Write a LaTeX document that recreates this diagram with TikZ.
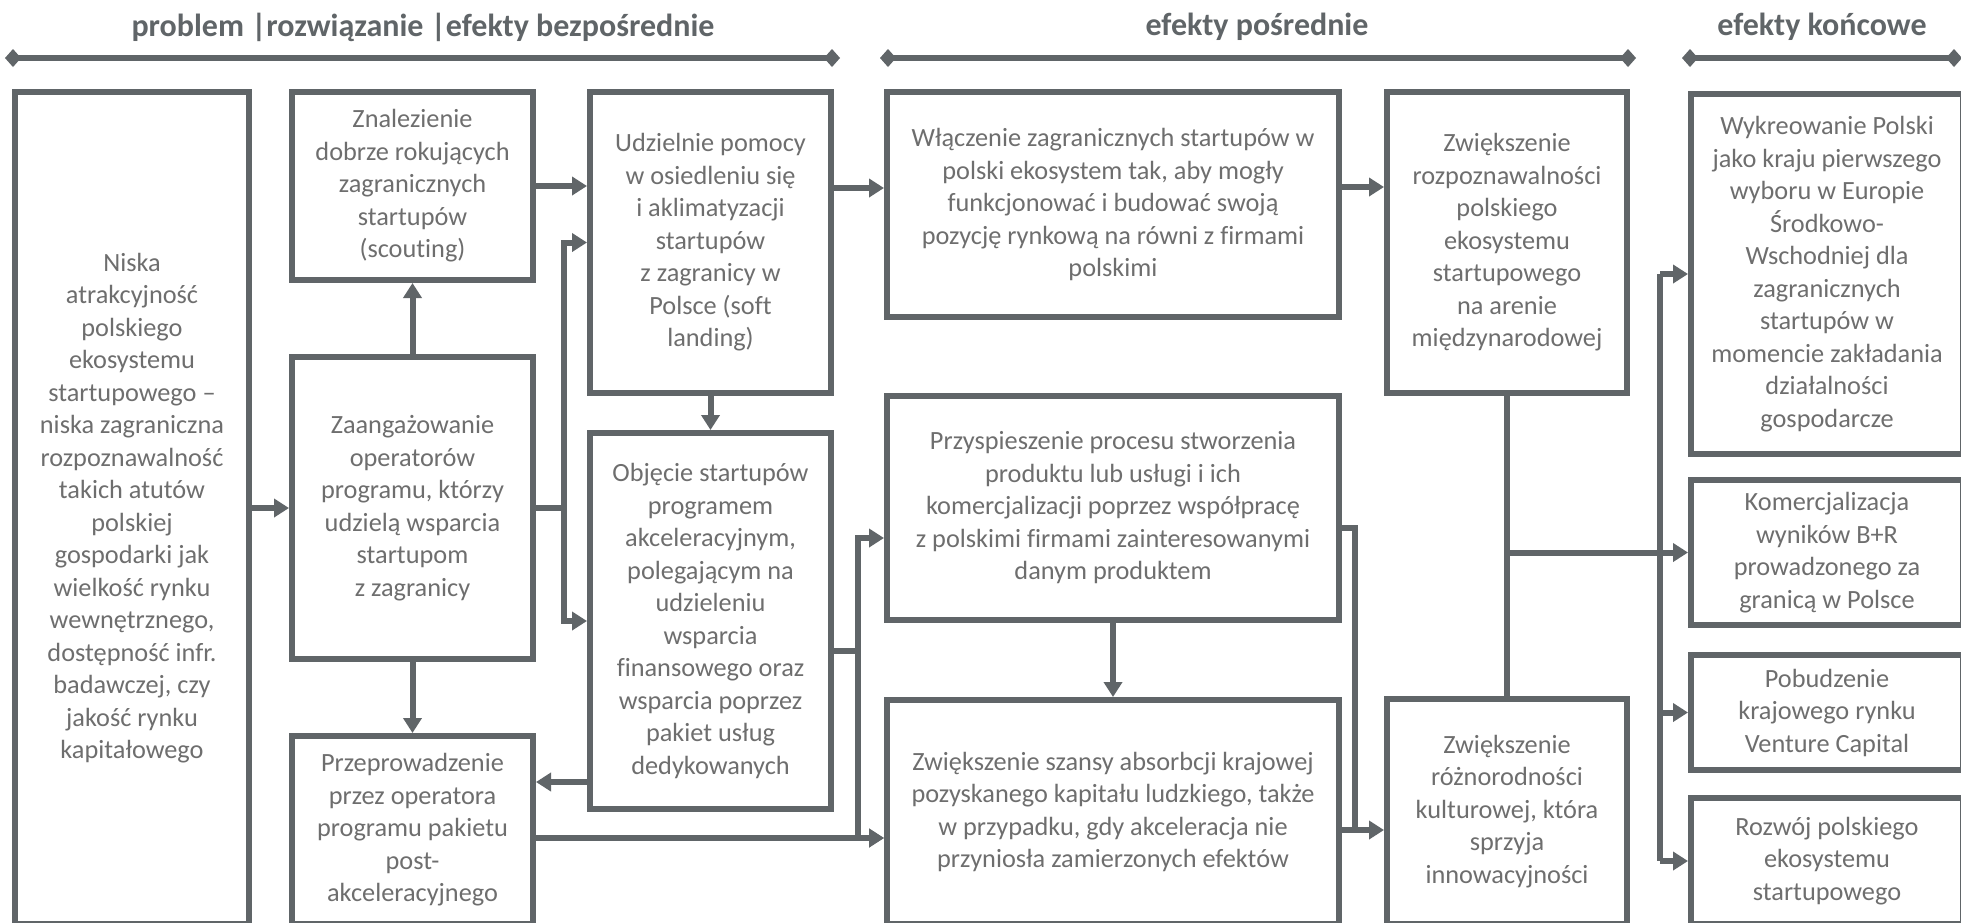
\documentclass[tikz,border=0pt]{standalone}
\usepackage{fontspec}
\setmainfont{Carlito}[Ligatures=NoCommon]
\usetikzlibrary{arrows.meta}
\definecolor{lc}{RGB}{96,101,104}
\definecolor{tc}{RGB}{110,110,110}
\begin{document}
\begin{tikzpicture}[x=1pt,y=-1pt,
  box/.style={draw=lc, line width=6pt, fill=white, text=tc, align=center,
    inner sep=0pt, font=\fontsize{26.3}{32.5}\selectfont},
  hdr/.style={text=lc, font=\fontsize{32}{38}\selectfont\bfseries, inner sep=0pt},
  span/.style={draw=lc, line width=6pt, {Diamond[length=16pt,width=18pt]}-{Diamond[length=16pt,width=18pt]}},
  link/.style={draw=lc, line width=6pt},
  arr/.style={link, -{Triangle[length=15pt,width=18pt]}}]
\useasboundingbox (0,0) rectangle (1961,922);
\clip (0,0) rectangle (1961,922);
\fill[white] (0,0) rectangle (1961,922);

% column headings
\node[hdr] (t1) at (423,27) {problem |rozwiązanie |efekty bezpośrednie};
\node[hdr] (t2) at (1257,27) {efekty pośrednie};
\node[hdr] (t3) at (1822,27) {efekty końcowe};
\coordinate (s1a) at (5,58);   \coordinate (s1b) at (840,58);
\coordinate (s2a) at (880,58); \coordinate (s2b) at (1636,58);
\coordinate (s3a) at (1682,58);\coordinate (s3b) at (1962,58);
\draw[span] (s1a) -- (s1b);
\draw[span] (s2a) -- (s2b);
\draw[span] (s3a) -- (s3b);

% problem
\node[box, minimum width=234pt, minimum height=832pt] (L) at (132,508)
  {Niska\\atrakcyjność\\polskiego\\ekosystemu\\startupowego –\\niska zagraniczna\\rozpoznawalność\\takich atutów\\polskiej\\gospodarki jak\\wielkość rynku\\wewnętrznego,\\dostępność infr.\\badawczej, czy\\jakość rynku\\kapitałowego};

% solution
\node[box, minimum width=241pt, minimum height=188pt] (Zn) at (412.5,186)
  {Znalezienie\\dobrze rokujących\\zagranicznych\\startupów\\(scouting)};
\node[box, minimum width=241pt, minimum height=302pt] (Za) at (412.5,508)
  {Zaangażowanie\\operatorów\\programu, którzy\\udzielą wsparcia\\startupom\\z zagranicy};
\node[box, minimum width=241pt, minimum height=188pt] (Pr) at (412.5,830)
  {Przeprowadzenie\\przez operatora\\programu pakietu\\post-\\akceleracyjnego};

% direct effects
\node[box, minimum width=241pt, minimum height=301pt] (Ud) at (710.5,242.5)
  {Udzielnie pomocy\\w osiedleniu się\\i aklimatyzacji\\startupów\\z zagranicy w\\Polsce (soft\\landing)};
\node[box, minimum width=241pt, minimum height=376pt] (Ob) at (710.5,621)
  {Objęcie startupów\\programem\\akceleracyjnym,\\polegającym na\\udzieleniu\\wsparcia\\finansowego oraz\\wsparcia poprzez\\pakiet usług\\dedykowanych};

% intermediate effects
\node[box, minimum width=452pt, minimum height=225pt] (Wl) at (1113,204.5)
  {Włączenie zagranicznych startupów w\\polski ekosystem tak, aby mogły\\funkcjonować i budować swoją\\pozycję rynkową na równi z firmami\\polskimi};
\node[box, minimum width=452pt, minimum height=224pt] (Pz) at (1113,508)
  {Przyspieszenie procesu stworzenia\\produktu lub usługi i ich\\komercjalizacji poprzez współpracę\\z polskimi firmami zainteresowanymi\\danym produktem};
\node[box, minimum width=452pt, minimum height=224pt] (Zs) at (1113,812)
  {Zwiększenie szansy absorbcji krajowej\\pozyskanego kapitału ludzkiego, także\\w przypadku, gdy akceleracja nie\\przyniosła zamierzonych efektów};
\node[box, minimum width=240pt, minimum height=301pt] (Ro) at (1507,242.5)
  {Zwiększenie\\rozpoznawalności\\polskiego\\ekosystemu\\startupowego\\na arenie\\międzynarodowej};
\node[box, minimum width=240pt, minimum height=225pt] (Rz) at (1507,811.5)
  {Zwiększenie\\różnorodności\\kulturowej, która\\sprzyja\\innowacyjności};

% final effects
\node[box, minimum width=272pt, minimum height=360pt] (Wy) at (1827,274)
  {Wykreowanie Polski\\jako kraju pierwszego\\wyboru w Europie\\Środkowo-\\Wschodniej dla\\zagranicznych\\startupów w\\momencie zakładania\\działalności\\gospodarcze};
\node[box, minimum width=272pt, minimum height=145pt] (Ko) at (1827,552.5)
  {Komercjalizacja\\wyników B+R\\prowadzonego za\\granicą w Polsce};
\node[box, minimum width=272pt, minimum height=115pt] (Po) at (1827,712.5)
  {Pobudzenie\\krajowego rynku\\Venture Capital};
\node[box, minimum width=272pt, minimum height=126pt] (Rw) at (1827,861)
  {Rozwój polskiego\\ekosystemu\\startupowego};

% connectors: problem and solution
\draw[arr] (L.east) -- (Za.west);
\draw[arr] (Za.north) -- (Zn.south);
\draw[arr] (Za.south) -- (Pr.north);
\draw[arr] (Zn.east) -- (Zn.east -| Ud.west);
\coordinate (b1) at (564,508);
\draw[link] (Za.east) -- (b1);
\draw[arr] (b1) |- (Ud.west);
\draw[arr] (b1) |- (Ob.west);
\draw[arr] (Ud.south) -- (Ob.north);
\draw[arr] (Ud.east |- 0,188) -- (Wl.west |- 0,188);
\draw[arr] (Ob.west |- 0,782) -- (Pr.east |- 0,782);

% connectors: direct to intermediate effects
\coordinate (b2) at (858,651);
\draw[link] (Ob.east |- b2) -- (b2);
\draw[arr] (b2) |- (Pz.west |- 0,538);
\draw[arr] (b2) |- (Zs.west |- 0,838);
\draw[arr] (Pr.east |- 0,838) -- (Zs.west |- 0,838);
\draw[arr] (Pz.south) -- (Zs.north);
\draw[arr] (Wl.east |- 0,187) -- (Ro.west |- 0,187);
\coordinate (b3) at (1355,830);
\draw[arr] (Pz.east |- 0,528) -| (b3) -- (Rz.west |- b3);
\draw[link] (Zs.east |- b3) -- (b3);

% connectors: to final effects
\draw[link] (Ro.south) -- (Rz.north);
\draw[arr] (Ro.south |- Ko.west) -- (Ko.west);
\coordinate (b4) at (1660,274);
\coordinate (b5) at (1660,861);
\draw[link] (b4) -- (b5);
\draw[arr] (b4) -- (Wy.west);
\draw[arr] (b4 |- Po.west) -- (Po.west);
\draw[arr] (b5) -- (Rw.west);
\end{tikzpicture}
\end{document}
